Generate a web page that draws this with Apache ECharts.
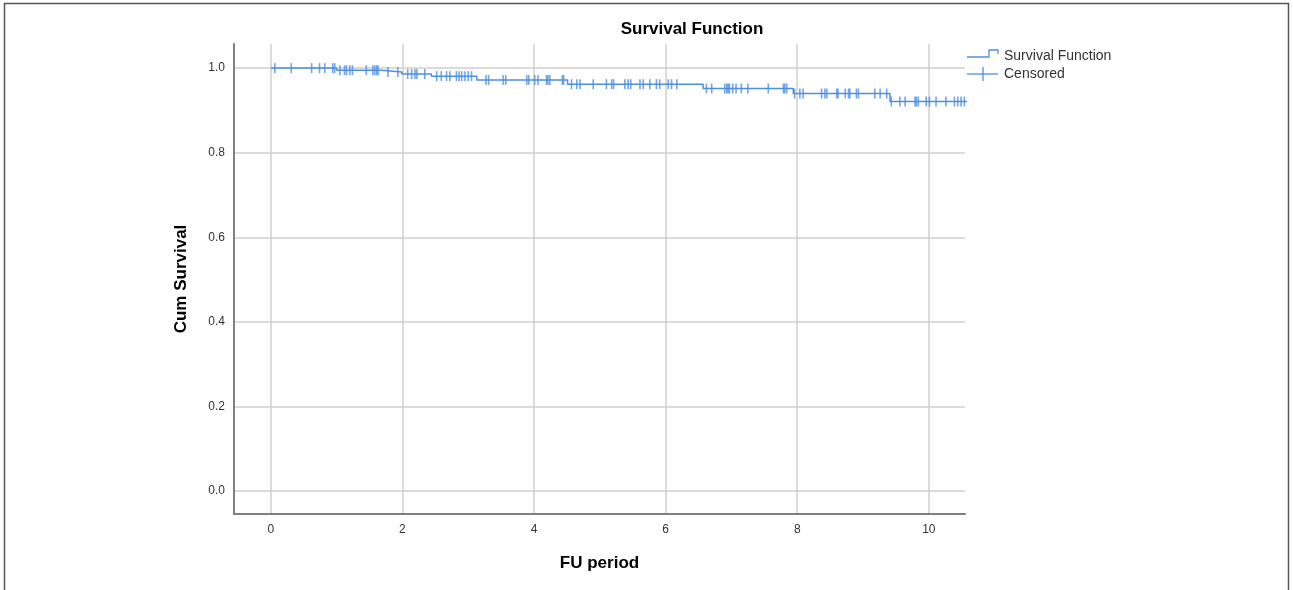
<!DOCTYPE html>
<html>
<head>
<meta charset="utf-8">
<title>Survival Function</title>
<script src="https://cdn.jsdelivr.net/npm/echarts@6/dist/echarts.min.js"></script>
<style>
  html, body { margin: 0; padding: 0; background: #fff; }
  #main { width: 1293px; height: 590px; }
</style>
</head>
<body>
<div id="main"></div>
<script>
// step times (years) and cumulative survival after each step
var stepTimes = [0, 1.00, 1.68, 1.99, 2.44, 3.13, 4.51, 6.57, 7.94, 9.41, 10.6];
var stepSurv  = [1.000, 0.995, 0.991, 0.986, 0.981, 0.972, 0.962, 0.952, 0.940, 0.921, 0.921];

// censored cases: time and survival level at that time
var censorTimes = [
    0.06, 0.31, 0.62, 0.74, 0.82, 0.94, 0.97,
    1.05, 1.12, 1.15, 1.20, 1.24, 1.45, 1.55, 1.58, 1.61, 1.63,
    1.78, 1.93,
    2.08, 2.14, 2.19, 2.22, 2.34,
    2.52, 2.59, 2.67, 2.72, 2.82, 2.86, 2.90, 2.95, 3.00, 3.05,
    3.27, 3.31, 3.53, 3.57, 3.89, 3.92, 4.01, 4.06, 4.19, 4.21, 4.24, 4.43, 4.45,
    4.57, 4.65, 4.70, 4.90, 5.10, 5.18, 5.21, 5.38, 5.43, 5.47, 5.61, 5.66, 5.76, 5.86, 5.91, 6.04, 6.09, 6.17,
    6.62, 6.70, 6.90, 6.93, 6.95, 6.97, 7.02, 7.07, 7.15, 7.25, 7.56, 7.79, 7.81, 7.84,
    7.96, 8.04, 8.09, 8.37, 8.42, 8.45, 8.60, 8.62, 8.73, 8.78, 8.80, 8.90, 8.93, 9.18, 9.26, 9.36,
    9.43, 9.56, 9.64, 9.79, 9.81, 9.84, 9.96, 10.01, 10.11, 10.26, 10.39, 10.44, 10.49, 10.54
];
var censorSurv = [
    1.000, 1.000, 1.000, 1.000, 1.000, 1.000, 1.000,
    0.995, 0.995, 0.995, 0.995, 0.995, 0.995, 0.995, 0.995, 0.995, 0.995,
    0.991, 0.991,
    0.986, 0.986, 0.986, 0.986, 0.986,
    0.981, 0.981, 0.981, 0.981, 0.981, 0.981, 0.981, 0.981, 0.981, 0.981,
    0.972, 0.972, 0.972, 0.972, 0.972, 0.972, 0.972, 0.972, 0.972, 0.972, 0.972, 0.972, 0.972,
    0.962, 0.962, 0.962, 0.962, 0.962, 0.962, 0.962, 0.962, 0.962, 0.962, 0.962, 0.962, 0.962, 0.962, 0.962, 0.962, 0.962, 0.962,
    0.952, 0.952, 0.952, 0.952, 0.952, 0.952, 0.952, 0.952, 0.952, 0.952, 0.952, 0.952, 0.952, 0.952,
    0.940, 0.940, 0.940, 0.940, 0.940, 0.940, 0.940, 0.940, 0.940, 0.940, 0.940, 0.940, 0.940, 0.940, 0.940, 0.940,
    0.921, 0.921, 0.921, 0.921, 0.921, 0.921, 0.921, 0.921, 0.921, 0.921, 0.921, 0.921, 0.921, 0.921
];

var xTicks = [0, 2, 4, 6, 8, 10];
var yTicks = [0, 0.2, 0.4, 0.6, 0.8, 1.0];

var lineColor = '#4f8fdf';
var myChart = echarts.init(document.getElementById('main'));

var curve = [];
for (var i = 0; i < stepTimes.length; i++) {
    curve.push([stepTimes[i], stepSurv[i]]);
}
var censored = [];
for (var j = 0; j < censorTimes.length; j++) {
    censored.push([censorTimes[j], censorSurv[j]]);
}

var option = {
    animation: false,
    backgroundColor: '#fff',
    textStyle: { fontFamily: 'Liberation Sans, Arial, sans-serif' },
    grid: { left: 234, top: 44, right: 328, bottom: 76 },
    xAxis: {
        type: 'value',
        min: -0.56,
        max: 10.55,
        name: 'FU period',
        nameLocation: 'middle',
        nameGap: 41,
        nameTextStyle: { fontSize: 17, fontWeight: 'bold', color: '#000' },
        axisLine: { show: true, onZero: false, lineStyle: { color: '#808080', width: 2 } },
        axisTick: { show: false, customValues: xTicks },
        axisLabel: { customValues: xTicks, color: '#333', fontSize: 12, margin: 10 },
        splitLine: { show: true, lineStyle: { color: '#cfcfcf', width: 1.5 } }
    },
    yAxis: {
        type: 'value',
        min: -0.054,
        max: 1.057,
        name: 'Cum Survival',
        nameLocation: 'middle',
        nameGap: 44,
        nameTextStyle: { fontSize: 17, fontWeight: 'bold', color: '#000' },
        axisLine: { show: true, onZero: false, lineStyle: { color: '#808080', width: 2 } },
        axisTick: { show: false, customValues: yTicks },
        axisLabel: {
            customValues: yTicks, color: '#333', fontSize: 12, margin: 9,
            formatter: function (v) { return v.toFixed(1); }
        },
        splitLine: { show: true, lineStyle: { color: '#cfcfcf', width: 1.5 } }
    },
    series: [{
        name: 'Survival Function',
        type: 'line',
        step: 'end',
        data: curve,
        showSymbol: false,
        clip: true,
        lineStyle: { color: lineColor, width: 1.5 },
        z: 3
    }, {
        name: 'Censored',
        type: 'scatter',
        data: censored,
        symbol: 'rect',
        symbolSize: [1.6, 10],
        clip: true,
        itemStyle: { color: lineColor },
        z: 4
    }],
    graphic: [{
        type: 'rect',
        shape: { x: 4.5, y: 3.5, width: 1284, height: 600 },
        style: { fill: 'none', stroke: '#555', lineWidth: 1.5 },
        silent: true
    }, {
        type: 'text',
        x: 692, y: 29,
        style: {
            text: 'Survival Function', fill: '#000',
            font: 'bold 17px "Liberation Sans", Arial, sans-serif',
            align: 'center', verticalAlign: 'middle'
        }
    }, {
        type: 'polyline',
        shape: { points: [[967, 57], [989, 57], [989, 50], [998, 50], [998, 54]] },
        style: { stroke: lineColor, lineWidth: 1.3, fill: 'none' }
    }, {
        type: 'text',
        x: 1004, y: 56,
        style: {
            text: 'Survival Function', fill: '#333',
            font: '14px "Liberation Sans", Arial, sans-serif',
            verticalAlign: 'middle'
        }
    }, {
        type: 'line',
        shape: { x1: 967, y1: 74, x2: 998, y2: 74 },
        style: { stroke: lineColor, lineWidth: 1.3 }
    }, {
        type: 'line',
        shape: { x1: 983, y1: 67, x2: 983, y2: 81 },
        style: { stroke: lineColor, lineWidth: 1.3 }
    }, {
        type: 'text',
        x: 1004, y: 74.5,
        style: {
            text: 'Censored', fill: '#333',
            font: '14px "Liberation Sans", Arial, sans-serif',
            verticalAlign: 'middle'
        }
    }]
};

myChart.setOption(option);
</script>
</body>
</html>
